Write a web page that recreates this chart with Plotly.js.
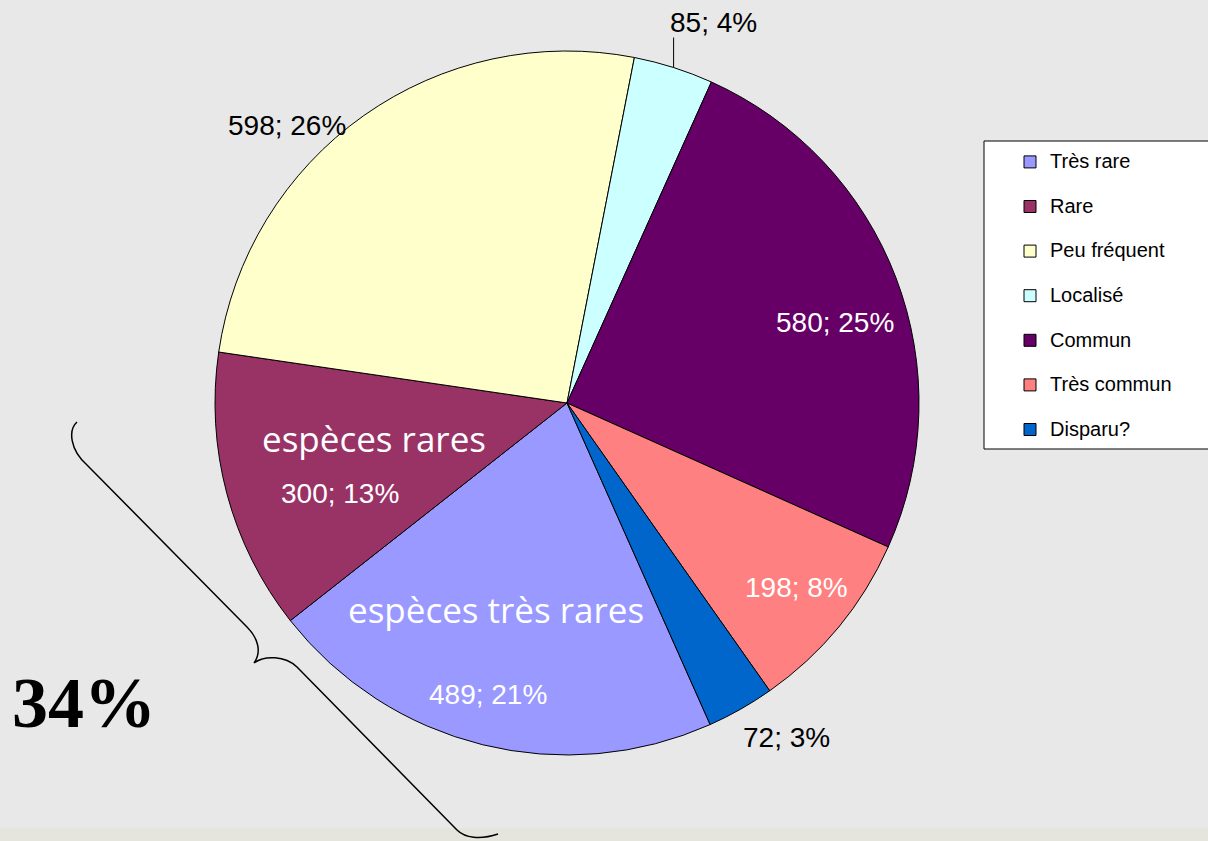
<!DOCTYPE html>
<html>
<head>
<meta charset="utf-8">
<script src="https://cdn.plot.ly/plotly-3.0.1.min.js"></script>
<style>
	html, body { margin: 0; padding: 0; background: #e9e9e9; }
	#chart { width: 1208px; height: 841px; }
</style>
</head>
<body>
<div id="chart"></div>
<script>
const categories = ['Très rare', 'Rare', 'Peu fréquent', 'Localisé', 'Commun', 'Très commun', 'Disparu?']
const counts = [489, 300, 598, 85, 580, 198, 72]
const percents = [21, 13, 26, 4, 25, 8, 3]
const sliceColors = ['#9999FF', '#993366', '#FFFFCC', '#CCFFFF', '#660066', '#FF8080', '#0066CC']

// label placement, relative to each slice: radius as a share of the pie radius,
// and a small turn (degrees) away from the slice's middle
const labelRadius = [0.857, 0.694, 1.121, 1.159, 0.795, 0.835, 1.135]
const labelTurn = [1.3, -6.7, -9.9, 3.35, 4.2, -0.7, -3.66]
const labelLeader = [false, false, false, true, false, false, false]

const W = 1208
const H = 841
const pieCenter = [567, 403]
const pieRadius = 352
const startAngle = 156

// pixel -> paper helpers (margins are zero, so paper == page)
function px(x) {
	return x / W
}
function py(y) {
	return 1 - y / H
}

function pointAt(angleDeg, r) {
	const a = (angleDeg * Math.PI) / 180
	return [pieCenter[0] + r * Math.sin(a), pieCenter[1] - r * Math.cos(a)]
}

function sliceMiddles() {
	const total = counts.reduce((a, b) => a + b, 0)
	let cum = 0
	return counts.map(v => {
		const mid = startAngle + ((cum + v / 2) / total) * 360
		cum += v
		return mid
	})
}

function bracePath() {
	const pts = [
		['M', 77, 422],
		['C', 68, 430, 70, 450, 87, 465],
		['L', 247, 627],
		['C', 258, 638, 262, 652, 254, 663],
		['C', 265, 655, 285, 656, 297, 667],
		['L', 457, 830],
		['C', 465, 838, 480, 840, 498, 834],
	]
	return pts
		.map(function (seg) {
			const nums = seg.slice(1)
			const out = []
			for (let i = 0; i < nums.length; i += 2) {
				out.push(px(nums[i]).toFixed(5) + ',' + py(nums[i + 1]).toFixed(5))
			}
			return seg[0] + out.join(' ')
		})
		.join(' ')
}

function createPieChart() {
	const trace = {
		type: 'pie',
		labels: categories.map(c => '<span style="font-size:20px">' + c + '</span><br>\u00a0'),
		values: counts,
		textinfo: 'none',
		sort: false,
		direction: 'clockwise',
		rotation: startAngle,
		marker: {
			colors: sliceColors,
			line: { color: '#000000', width: 1 },
		},
		domain: {
			x: [px(pieCenter[0] - pieRadius), px(pieCenter[0] + pieRadius)],
			y: [py(pieCenter[1] + pieRadius), py(pieCenter[1] - pieRadius)],
		},
		hoverinfo: 'skip',
	}

	const mids = sliceMiddles()
	const valueLabels = counts.map((v, i) => {
		const p = pointAt(mids[i] + labelTurn[i], labelRadius[i] * pieRadius)
		return {
			text: v + '; ' + percents[i] + '%',
			xref: 'paper', yref: 'paper',
			x: px(p[0]), y: py(p[1]),
			xanchor: 'center', yanchor: 'middle',
			showarrow: false,
			font: {
				family: 'Liberation Sans, Arial',
				size: 28,
				color: labelRadius[i] < 1 ? '#ffffff' : '#000000',
			},
		}
	})

	const leaders = []
	counts.forEach((v, i) => {
		if (!labelLeader[i]) return
		const edge = pointAt(mids[i], pieRadius)
		leaders.push({
			type: 'line', xref: 'paper', yref: 'paper', layer: 'above',
			x0: px(edge[0]), x1: px(edge[0]),
			y0: py(edge[1]), y1: py(edge[1] - 30),
			line: { color: '#000000', width: 1 },
		})
	})

	const layout = {
		width: W,
		height: H,
		margin: { l: 0, r: 0, t: 0, b: 0, pad: 0 },
		paper_bgcolor: '#e8e8e8',
		showlegend: true,
		legend: {
			x: px(1010),
			y: py(145),
			xanchor: 'left',
			yanchor: 'top',
			bgcolor: 'rgba(0,0,0,0)',
			borderwidth: 0,
			valign: 'top',
			font: { family: 'Liberation Sans, Arial', size: 16, color: '#000000' },
		},
		shapes: [
			{
				type: 'rect', xref: 'paper', yref: 'paper', layer: 'below',
				x0: 0, x1: 1, y0: 0, y1: py(828),
				fillcolor: '#e5e5de', line: { width: 0 },
			},
			{
				type: 'rect', xref: 'paper', yref: 'paper', layer: 'below',
				x0: px(984), x1: 1.01, y0: py(449), y1: py(141),
				fillcolor: '#ffffff', line: { color: '#000000', width: 1 },
			},
			{
				type: 'path', xref: 'paper', yref: 'paper', layer: 'above',
				path: bracePath(),
				line: { color: '#000000', width: 1.5 },
			},
		].concat(leaders),
		annotations: valueLabels.concat([
			{
				text: 'espèces rares', xref: 'paper', yref: 'paper',
				x: px(374), y: py(438), xanchor: 'center', yanchor: 'middle', showarrow: false,
				font: { family: 'Open Sans, sans-serif', size: 35, color: '#ffffff' },
			},
			{
				text: 'espèces très rares', xref: 'paper', yref: 'paper',
				x: px(496), y: py(609), xanchor: 'center', yanchor: 'middle', showarrow: false,
				font: { family: 'Open Sans, sans-serif', size: 35, color: '#ffffff' },
			},
			{
				text: '<b>34%</b>', xref: 'paper', yref: 'paper',
				x: px(84), y: py(703), xanchor: 'center', yanchor: 'middle', showarrow: false,
				font: { family: 'Liberation Serif, Times New Roman, serif', size: 72, color: '#000000' },
			},
		]),
	}

	Plotly.newPlot('chart', [trace], layout, { displayModeBar: false, staticPlot: true })
}

window.onload = createPieChart
</script>
</body>
</html>
